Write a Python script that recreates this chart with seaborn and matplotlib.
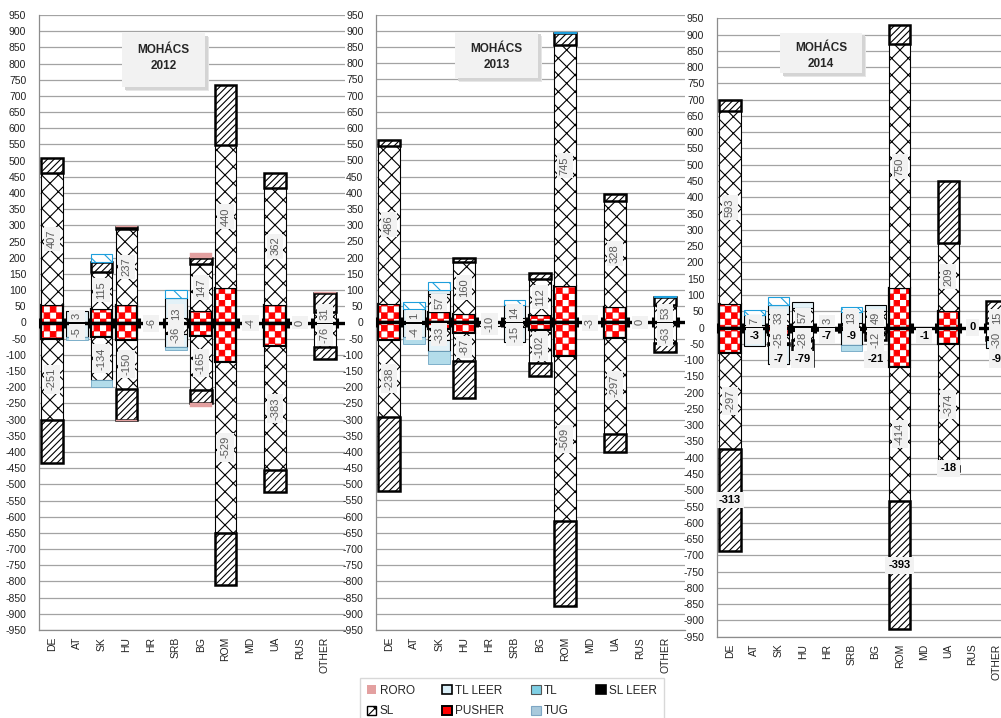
import warnings
warnings.filterwarnings("ignore")
import numpy as np
import pandas as pd
import matplotlib
matplotlib.use("Agg")
import matplotlib.pyplot as plt
import matplotlib.hatch as mhatch
from matplotlib.path import Path
from matplotlib.patches import Patch, Rectangle
import seaborn as sns

# ---------------------------------------------------------------- data
COUNTRIES = ["DE", "AT", "SK", "HU", "HR", "SRB", "BG", "ROM", "MD", "UA", "RUS", "OTHER"]
YEARS = [2012, 2013, 2014]

PUSHER_2012 = [55, 0, 42, 53, 0, 0, 35, 107, 0, 55, 0, 0]
PUSHER_2012_NEG = [-50, 0, -45, -54, 0, 0, -43, -121, 0, -74, 0, 0]
SL_2012 = [407, 3, 115, 237, 0, 13, 147, 440, 0, 362, 0, 31]
SL_2012_NEG = [-251, -5, -134, -150, -6, -36, -165, -529, -4, -383, 0, -76]
SL_LEER_2012 = [46, 0, 30, 5, 0, 0, 18, 186, 0, 45, 0, 61]
SL_LEER_2012_NEG = [-134, 0, 0, -96, 0, 0, -42, -161, 0, -68, 0, -36]
TL_LEER_2012 = [0, 34, 0, 0, 0, 62, 0, 0, 0, 0, 0, 0]
TL_LEER_2012_NEG = [0, -39, 0, 0, 0, -39, 0, 0, 0, 0, 0, 0]
TL_2012 = [0, 0, 25, 0, 0, 25, 0, 0, 0, 0, 0, 0]
TL_2012_NEG = [0, 0, 0, 0, 0, 0, 0, 0, 0, 0, 0, 0]
TUG_2012 = [0, 0, 0, 0, 0, 0, 0, 0, 0, 0, 0, 0]
TUG_2012_NEG = [0, -10, -20, 0, 0, -10, 0, 0, 0, 0, 0, 0]
RORO_2012 = [0, 0, 0, 3, 0, 0, 15, 0, 0, 0, 0, 3]
RORO_2012_NEG = [0, 0, 0, -4, 0, 0, -12, 0, 0, 0, 0, 0]

PUSHER_2013 = [58, 0, 32, 27, 0, 0, 22, 112, 0, 48, 0, 0]
PUSHER_2013_NEG = [-55, 0, -20, -33, 0, 0, -23, -105, 0, -47, 0, 0]
SL_2013 = [486, 1, 57, 160, 0, 14, 112, 745, 0, 328, 0, 53]
SL_2013_NEG = [-238, -4, -33, -87, -10, -15, -102, -509, -3, -297, 0, -63]
SL_LEER_2013 = [19, 0, 0, 12, 0, 0, 19, 36, 0, 21, 0, 24]
SL_LEER_2013_NEG = [-229, 0, 0, -113, 0, 0, -42, -261, 0, -56, 0, -29]
TL_LEER_2013 = [0, 41, 10, 0, 0, 39, 0, 0, 0, 0, 0, 0]
TL_LEER_2013_NEG = [0, -41, -36, 0, 0, -46, 0, 0, 0, 0, 0, 0]
TL_2013 = [0, 21, 25, 0, 0, 15, 0, 3, 0, 0, 0, 3]
TL_2013_NEG = [0, 0, 0, 0, 0, 0, 0, 0, 0, 0, 0, 0]
TUG_2013 = [0, 0, 0, 0, 0, 0, 0, 0, 0, 0, 0, 0]
TUG_2013_NEG = [0, -23, -39, 0, 0, 0, 0, 0, 0, 0, 0, 0]
RORO_2013 = [0, 0, 0, 0, 0, 0, 0, 0, 0, 0, 0, 0]
RORO_2013_NEG = [0, 0, 0, 0, 0, 0, 0, 0, 0, 0, 0, 0]

PUSHER_2014 = [72, 0, 8, 4, 0, 0, 3, 120, 0, 52, 0, 0]
PUSHER_2014_NEG = [-77, 0, -22, -10, 0, 0, -5, -120, 0, -50, 0, 0]
SL_2014 = [593, 7, 33, 57, 3, 13, 49, 750, 0, 209, 0, 15]
SL_2014_NEG = [-297, 0, -25, -28, 0, 0, -12, -414, 0, -374, 0, -30]
SL_LEER_2014 = [33, 0, 0, 0, 0, 0, 0, 60, 0, 189, 0, 65]
SL_LEER_2014_NEG = [-313, -3, -7, -79, -7, -9, -21, -393, -1, -18, 0, -9]
TL_LEER_2014 = [0, 32, 28, 17, 0, 36, 18, 0, 0, 0, 0, 0]
TL_LEER_2014_NEG = [0, -53, -57, 0, 0, -44, 0, 0, 0, 0, 0, -24]
TL_2014 = [0, 15, 26, 0, 0, 15, 0, 0, 0, 0, 0, 0]
TL_2014_NEG = [0, 0, 0, 0, 0, 0, 0, 0, 0, 0, 0, 0]
TUG_2014 = [0, 0, 0, 0, 0, 0, 0, 0, 0, 0, 0, 0]
TUG_2014_NEG = [0, 0, 0, 0, 0, -18, 0, 0, 0, 0, 0, 0]
RORO_2014 = [0, 0, 0, 0, 0, 0, 0, 0, 0, 0, 0, 0]
RORO_2014_NEG = [0, 0, 0, 0, 0, 0, 0, 0, 0, 0, 0, 0]

SERIES = ["PUSHER", "SL", "SL LEER", "TL LEER", "TL", "TUG", "RORO"]  # stacking order from zero outward
DATA = {
    2012: {"PUSHER": (PUSHER_2012, PUSHER_2012_NEG), "SL": (SL_2012, SL_2012_NEG),
           "SL LEER": (SL_LEER_2012, SL_LEER_2012_NEG), "TL LEER": (TL_LEER_2012, TL_LEER_2012_NEG),
           "TL": (TL_2012, TL_2012_NEG), "TUG": (TUG_2012, TUG_2012_NEG), "RORO": (RORO_2012, RORO_2012_NEG)},
    2013: {"PUSHER": (PUSHER_2013, PUSHER_2013_NEG), "SL": (SL_2013, SL_2013_NEG),
           "SL LEER": (SL_LEER_2013, SL_LEER_2013_NEG), "TL LEER": (TL_LEER_2013, TL_LEER_2013_NEG),
           "TL": (TL_2013, TL_2013_NEG), "TUG": (TUG_2013, TUG_2013_NEG), "RORO": (RORO_2013, RORO_2013_NEG)},
    2014: {"PUSHER": (PUSHER_2014, PUSHER_2014_NEG), "SL": (SL_2014, SL_2014_NEG),
           "SL LEER": (SL_LEER_2014, SL_LEER_2014_NEG), "TL LEER": (TL_LEER_2014, TL_LEER_2014_NEG),
           "TL": (TL_2014, TL_2014_NEG), "TUG": (TUG_2014, TUG_2014_NEG), "RORO": (RORO_2014, RORO_2014_NEG)},
}
BOLD_LEER_LABELS = {2012: False, 2013: False, 2014: True}


# ---------------------------------------------------------------- checker hatch ('c')
class CheckerHatch(mhatch.HatchPatternBase):
    filled = True

    def __init__(self, hatch, density):
        self.n = hatch.count("c") * 8
        self.num_vertices = ((self.n * self.n) // 2) * 5 if self.n else 0

    def set_vertices_and_codes(self, vertices, codes):
        n = self.n
        s = 1.0 / n
        e = 0.004
        k = 0
        for i in range(n):
            for j in range(n):
                if (i + j) % 2 == 0:
                    x0, y0 = i * s + e, j * s + e
                    x1, y1 = (i + 1) * s - e, (j + 1) * s - e
                    vertices[k:k + 5] = [(x0, y0), (x1, y0), (x1, y1), (x0, y1), (x0, y0)]
                    codes[k:k + 5] = [Path.MOVETO, Path.LINETO, Path.LINETO, Path.LINETO, Path.CLOSEPOLY]
                    k += 5


mhatch._hatch_types.append(CheckerHatch)

# ---------------------------------------------------------------- styles
sns.set_theme(style="white")
plt.rcParams["font.family"] = ["Liberation Sans", "DejaVu Sans"]
plt.rcParams["axes.unicode_minus"] = False
plt.rcParams["hatch.linewidth"] = 0.8

STYLES = {
    "PUSHER": dict(color="white", edgecolor="#ff0000", hatch="cc", linewidth=0.0),
    "SL": dict(color="white", edgecolor="black", hatch="xx", linewidth=0.8),
    "SL LEER": dict(color="white", edgecolor="black", hatch="/////", linewidth=1.8),
    "TL LEER": dict(color="#e3f2f8", edgecolor="black", linewidth=0.8),
    "TL": dict(color="white", edgecolor="#1e9fdc", hatch="\\\\", linewidth=0.8),
    "TUG": dict(color="#b3dcea", edgecolor="#6fa6c4", linewidth=0.6),
    "RORO": dict(color="#e3a0a0", edgecolor="#e3a0a0", linewidth=0.3),
}
BAR_WIDTH = 0.87

# axes placement in pixels (left, right, top, bottom) and xlim
FIG_W, FIG_H = 1001, 718
PANELS = {
    2012: dict(px=(38.7, 345, 15, 630), xlim=(-0.536, 11.815)),
    2013: dict(px=(376, 685, 14.7, 630), xlim=(-0.52, 11.79)),
    2014: dict(px=(716.7, 1001, 18.3, 636.7), xlim=(-0.55, 11.17)),
}
# title boxes in pixels: (left, right, top, bottom, text centre y)
TITLE_BOX = {2012: (122, 205, 33, 87, 58), 2013: (455, 538, 32, 78, 57), 2014: (780, 862, 33, 73, 56)}

fig = plt.figure(figsize=(FIG_W / 100, FIG_H / 100), dpi=100)


def draw_layer(ax, values, bottoms, style):
    st = dict(style)
    lw = st.pop("linewidth")
    lws = [lw if v != 0 else 0 for v in values]
    df = pd.DataFrame({"country": COUNTRIES, "value": values})
    sns.barplot(data=df, x="country", y="value", order=COUNTRIES, ax=ax, width=BAR_WIDTH,
                errorbar=None, saturation=1, bottom=list(bottoms), linewidth=lws, zorder=2, **st)


for year in YEARS:
    l, r, t, b = PANELS[year]["px"]
    ax = fig.add_axes([l / FIG_W, 1 - b / FIG_H, (r - l) / FIG_W, (b - t) / FIG_H])
    ax.set_axisbelow(True)
    d = DATA[year]
    pos_base = np.zeros(len(COUNTRIES))
    neg_base = np.zeros(len(COUNTRIES))
    seg = {}
    for s in SERIES:
        pos, neg = d[s]
        pos = np.array(pos, float)
        neg = np.array(neg, float)
        seg[s] = (pos_base.copy(), pos, neg_base.copy(), neg)
        draw_layer(ax, pos, pos_base, STYLES[s])
        draw_layer(ax, neg, neg_base, STYLES[s])
        if s == "PUSHER":
            outline = dict(color="black", facecolor="none", edgecolor="black", linewidth=1.6)
            draw_layer(ax, pos, pos_base, outline)
            draw_layer(ax, neg, neg_base, outline)
        pos_base = pos_base + pos
        neg_base = neg_base + neg

    ax.set_xlim(*PANELS[year]["xlim"])
    ax.set_ylim(-950, 950)
    ax.set_yticks(np.arange(-950, 951, 50))
    ax.yaxis.grid(True, color="#a3a3a3", linewidth=0.9)
    ax.xaxis.grid(False)
    ax.set_xlabel("")
    ax.set_ylabel("")
    ax.tick_params(axis="y", length=0, pad=9, labelsize=7.5, labelcolor="#222222")
    ax.tick_params(axis="x", length=0, pad=5, labelsize=7.5, labelcolor="#222222", labelrotation=90)
    for sp in ["top", "right"]:
        ax.spines[sp].set_visible(False)
    ax.spines["left"].set_color("#8c8c8c")
    ax.spines["bottom"].set_color("#8c8c8c")
    ax.spines["left"].set_linewidth(0.9)
    ax.spines["bottom"].set_linewidth(0.9)

    # thick zero axis with category tick marks
    ax.axhline(0, color="black", linewidth=2.4, zorder=3)
    ax.plot(np.arange(len(COUNTRIES) + 1) - 0.5, np.zeros(len(COUNTRIES) + 1), ls="none",
            marker="|", ms=7, mew=2.2, color="black", zorder=3)

    # SL value labels (rotated)
    units_per_px = 1900.0 / (b - t)
    bold = BOLD_LEER_LABELS[year]
    sl_pb, sl_p, sl_nb, sl_n = seg["SL"]
    box = dict(boxstyle="square,pad=0.28", fc="#f2f2f2", ec="none")
    neg_label_floor = np.zeros(len(COUNTRIES))
    for i in range(len(COUNTRIES)):
        p, n = sl_p[i], sl_n[i]
        crowded = (p != 0 and n != 0) or bold
        for v, base in ((p, sl_pb[i]), (n, sl_nb[i])):
            if v == 0:
                continue
            txt = f"{int(v)}"
            half = (len(txt) * 5.6 + 6) / 2 * units_per_px
            y = base + v / 2
            if crowded:
                y = max(y, half + 2) if v > 0 else min(y, -(half + 2))
            if v < 0:
                neg_label_floor[i] = y - half
            ax.text(i, y, txt, rotation=90, ha="center", va="center", fontsize=8,
                    color="#595959", bbox=box, zorder=4)
        if p == 0 and n == 0 and not bold:
            ax.text(i, 0, "0", rotation=90, ha="center", va="center", fontsize=8,
                    color="#595959", bbox=box, zorder=4)

    # SL LEER (outgoing) labels, horizontal bold
    if bold:
        lb, lv = seg["SL LEER"][2], seg["SL LEER"][3]
        bhalf = 7.5 * units_per_px
        for i in range(len(COUNTRIES)):
            v = lv[i]
            if v == 0:
                y = 0
            else:
                y = min(lb[i] + v / 2, -(bhalf + 2), neg_label_floor[i] - bhalf - 3)
            ax.text(i, y, f"{int(v)}", ha="center", va="center", fontsize=8, fontweight="bold",
                    color="black", bbox=dict(boxstyle="square,pad=0.3", fc="#f2f2f2", ec="none"),
                    zorder=5)

    # title box with soft shadow
    bl, br, bt, bb, tyc = TITLE_BOX[year]
    for off, col in ((4, "#e6e6e6"), (2.5, "#d4d4d4")):
        fig.add_artist(Rectangle(((bl + off) / FIG_W, 1 - (bb + off) / FIG_H), (br - bl) / FIG_W,
                                 (bb - bt) / FIG_H, transform=fig.transFigure, fc=col, ec="none",
                                 zorder=5))
    fig.add_artist(Rectangle((bl / FIG_W, 1 - bb / FIG_H), (br - bl) / FIG_W, (bb - bt) / FIG_H,
                             transform=fig.transFigure, fc="#f2f2f2", ec="none", zorder=6))
    fig.text((bl + br) / 2 / FIG_W, 1 - tyc / FIG_H, f"MOHÁCS\n{year}", ha="center", va="center",
             fontsize=8.5, fontweight="bold", color="#262626", linespacing=1.45, zorder=7)

# ---------------------------------------------------------------- legend
handles = {
    "RORO": Patch(fc="#e3a0a0", ec="none"),
    "TL LEER": Patch(fc="#d9eef7", ec="black", lw=1.2),
    "TL": Patch(fc="#7fcfe4", ec="#555555", lw=0.8),
    "SL LEER": Patch(fc="black", ec="black", lw=1.2),
    "SL": Patch(fc="white", ec="black", hatch="xx", lw=1.0),
    "PUSHER": Patch(fc="#ff0000", ec="black", lw=1.4),
    "TUG": Patch(fc="#a9c9dc", ec="#7ea6c4", lw=0.8),
}
order = ["RORO", "SL", "TL LEER", "PUSHER", "TL", "TUG", "SL LEER"]
leg = fig.legend([handles[k] for k in order], order, ncol=4, loc="upper center",
                 bbox_to_anchor=(512 / FIG_W, 1 - 672 / FIG_H), fontsize=8.5,
                 frameon=True, handlelength=0.8, handleheight=0.8, handletextpad=0.3,
                 columnspacing=2.3, borderpad=0.6, labelspacing=0.7, fancybox=False)
leg.get_frame().set_edgecolor("#cfcfcf")
leg.get_frame().set_linewidth(1.0)

fig.savefig("out.png", dpi=100)
